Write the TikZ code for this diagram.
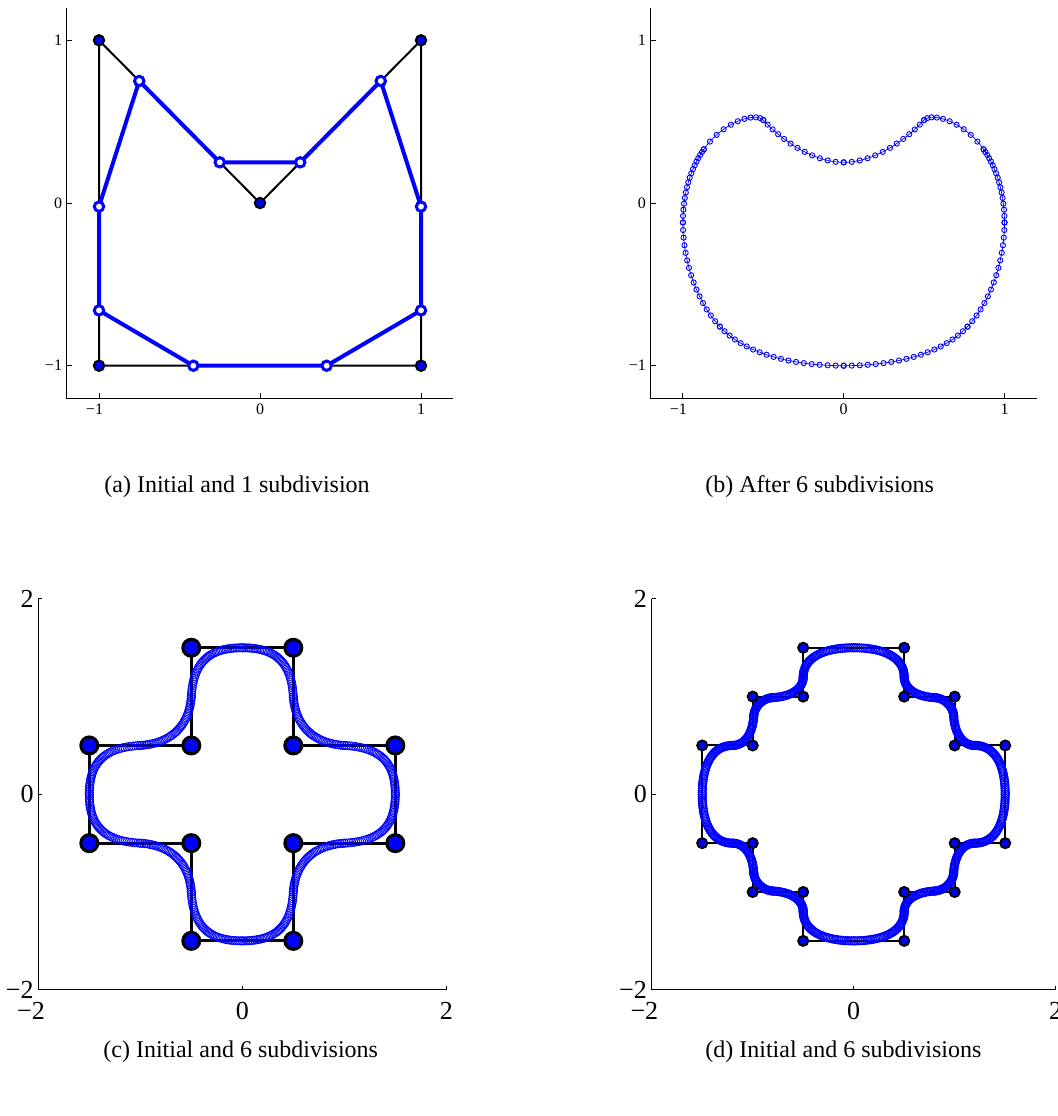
\documentclass[tikz,border=0pt]{standalone}
\usepackage{fontspec}
\setmainfont{Liberation Serif}
\usepackage{tikz}
\definecolor{plotblue}{RGB}{0,0,255}
\tikzset{
  axisline/.style={draw=black, line width=0.5pt},
  ticklbl/.style={font=\fontsize{8}{9}\selectfont, inner sep=0pt},
  bigticklbl/.style={font=\fontsize{13}{15}\selectfont, inner sep=0pt},
  captionlbl/.style={font=\fontsize{12}{14}\selectfont, anchor=west, inner sep=0pt},
  ctrlpoly/.style={draw=black, line width=1pt, line join=round},
  ctrlpt/.style={draw=black, fill=plotblue, line width=1pt},
  subpoly/.style={draw=plotblue, line width=2pt, line join=round},
  subpt/.style={draw=plotblue, fill=white, line width=1.5pt},
  fineline/.style={draw=plotblue, line width=0.35pt},
  smallring/.style={draw=plotblue, line width=0.45pt, radius=1.3pt},
  bandring/.style={draw=plotblue, line width=0.4pt, radius=2.1pt},
  lightring/.style={draw=plotblue, line width=0.3pt, radius=2.1pt}
}
% rings along one cubic segment: #1 style, #2..#9 = x0,y0,x1,y1,x2,y2,x3,y3
\newcommand{\ringn}{20}
\newcommand{\bezrings}[9]{%
  \foreach \k in {0,...,\ringn}{%
    \pgfmathsetmacro{\bt}{\k/\ringn}%
    \pgfmathsetmacro{\bu}{1-\bt}%
    \path[#1] ({\bu*\bu*\bu*(#2)+3*\bu*\bu*\bt*(#4)+3*\bu*\bt*\bt*(#6)+\bt*\bt*\bt*(#8)},
               {\bu*\bu*\bu*(#3)+3*\bu*\bu*\bt*(#5)+3*\bu*\bt*\bt*(#7)+\bt*\bt*\bt*(#9)}) circle;
  }%
}

\begin{document}
\begin{tikzpicture}[x=0.5pt, y=-0.5pt]
  \useasboundingbox (0,0) rectangle (1057,1116);
  \coordinate (Oa) at (260,203);
  \coordinate (Ob) at (843.7,203);
  \coordinate (Oc) at (242.3,794.3);
  \coordinate (Od) at (853.7,794.3);

  % (a) initial polygon and one step
  \begin{scope}[shift={(Oa)}, x=80.5pt, y=81.35pt]
    \draw[axisline] (-1.2,1.2) -- (-1.2,-1.2) -- (1.2,-1.2);
    \foreach \t in {-1,0,1}{
      \draw[axisline] (\t,-1.2) -- ++(0,0.03);
      \draw[axisline] (-1.2,\t) -- ++(0.03,0);
    }
    \foreach \t/\lbl in {-1/\llap{−}1, 0/0, 1/1}
      \node[ticklbl, yshift=-5.5pt] at (\t,-1.2) {\lbl};
    \foreach \t/\lbl in {-1/−1, 0/0, 1/1}
      \node[ticklbl, anchor=east, xshift=-2.2pt] at (-1.2,\t) {\lbl};

    \foreach \x/\y [count=\i] in {-1/1, 0/0, 1/1, 1/-1, -1/-1}
      \coordinate (a\i) at (\x,\y);
    \foreach \x/\y [count=\i] in {-0.75/0.75, -0.25/0.25, 0.25/0.25, 0.75/0.75,
        1/-0.022, 1/-0.66, 0.414/-1, -0.414/-1, -1/-0.66, -1/-0.022}
      \coordinate (s\i) at (\x,\y);

    \draw[ctrlpoly] (a1) \foreach \i in {2,...,5}{-- (a\i)} -- cycle;
    \draw[subpoly] (s1) \foreach \i in {2,...,10}{-- (s\i)} -- cycle;
    \foreach \i in {1,...,5} \draw[ctrlpt] (a\i) circle (2.6pt);
    \foreach \i in {1,...,10} \draw[subpt] (s\i) circle (2.35pt);
  \end{scope}

  % (b) six steps
  \begin{scope}[shift={(Ob)}, x=80.4pt, y=81.35pt]
    \draw[axisline] (-1.2,1.2) -- (-1.2,-1.2) -- (1.2,-1.2);
    \foreach \t in {-1,0,1}{
      \draw[axisline] (\t,-1.2) -- ++(0,0.03);
      \draw[axisline] (-1.2,\t) -- ++(0.03,0);
    }
    \foreach \t/\lbl in {-1/\llap{−}1, 0/0, 1/1}
      \node[ticklbl, yshift=-5.5pt] at (\t,-1.2) {\lbl};
    \foreach \t/\lbl in {-1/−1, 0/0, 1/1}
      \node[ticklbl, anchor=east, xshift=-2.2pt] at (-1.2,\t) {\lbl};

    \foreach \sx in {-1,1}{
      \draw[fineline] (0,0.25)
        .. controls ({\sx*0.2},0.25) and ({\sx*0.4},0.4) .. ({\sx*0.5},0.51)
        .. controls ({\sx*0.55},0.56) and ({\sx*0.75},0.5) .. ({\sx*0.87},0.33)
        .. controls ({\sx*0.93},0.245) and ({\sx*1},0.1) .. ({\sx*1},-0.12)
        .. controls ({\sx*1},-0.35) and ({\sx*0.92},-0.6) .. ({\sx*0.77},-0.76)
        .. controls ({\sx*0.605},-0.936) and ({\sx*0.3},-1) .. (0,-1);
      \renewcommand{\ringn}{12}
      \bezrings{smallring}{0}{0.25}{\sx*0.2}{0.25}{\sx*0.4}{0.4}{\sx*0.5}{0.51}
      \renewcommand{\ringn}{10}
      \bezrings{smallring}{\sx*0.5}{0.51}{\sx*0.55}{0.56}{\sx*0.75}{0.5}{\sx*0.87}{0.33}
      \renewcommand{\ringn}{16}
      \bezrings{smallring}{\sx*0.87}{0.33}{\sx*0.93}{0.245}{\sx*1}{0.1}{\sx*1}{-0.12}
      \renewcommand{\ringn}{15}
      \bezrings{smallring}{\sx*1}{-0.12}{\sx*1}{-0.35}{\sx*0.92}{-0.6}{\sx*0.77}{-0.76}
      \renewcommand{\ringn}{18}
      \bezrings{smallring}{\sx*0.77}{-0.76}{\sx*0.605}{-0.936}{\sx*0.3}{-1}{0}{-1}
    }
  \end{scope}

  % (c) cross, initial and six steps
  \begin{scope}[shift={(Oc)}, x=51pt, y=48.85pt]
    \draw[axisline] (-2,2) -- (-2,-2) -- (2,-2);
    \foreach \t in {-2,0,2}{
      \draw[axisline] (\t,-2) -- ++(0,0.04);
      \draw[axisline] (-2,\t) -- ++(0.04,0);
    }
    \foreach \t/\lbl in {-2/\llap{−}2, 0/0, 2/2}
      \node[bigticklbl, yshift=-10.5pt] at (\t,-2) {\lbl};
    \foreach \t/\lbl in {-2/−2, 0/0, 2/2}
      \node[bigticklbl, anchor=east, xshift=-2.2pt] at (-2,\t) {\lbl};

    \foreach \x/\y [count=\i] in {-0.5/1.5, 0.5/1.5, 0.5/0.5, 1.5/0.5,
        1.5/-0.5, 0.5/-0.5, 0.5/-1.5, -0.5/-1.5, -0.5/-0.5, -1.5/-0.5,
        -1.5/0.5, -0.5/0.5}
      \coordinate (c\i) at (\x,\y);
    \draw[ctrlpoly, line width=1.5pt] (c1) \foreach \i in {2,...,12}{-- (c\i)} -- cycle;

    \renewcommand{\ringn}{48}
    \foreach \sx/\sy in {1/1, -1/1, -1/-1, 1/-1}{
      \bezrings{lightring}{0}{\sy*1.5}{\sx*0.3}{\sy*1.5}{\sx*0.48}{\sy*1.38}{\sx*0.5}{\sy*1.0}
      \bezrings{lightring}{\sx*0.5}{\sy*1.0}{\sx*0.52}{\sy*0.7}{\sx*0.7}{\sy*0.52}{\sx*1.0}{\sy*0.5}
      \bezrings{lightring}{\sx*1.0}{\sy*0.5}{\sx*1.38}{\sy*0.48}{\sx*1.5}{\sy*0.3}{\sx*1.5}{0}
    }

    \foreach \i in {1,...,12} \draw[ctrlpt, line width=1.5pt] (c\i) circle (4.25pt);
  \end{scope}

  % (d) stepped shape, initial and six steps
  \begin{scope}[shift={(Od)}, x=50.5pt, y=48.85pt]
    \draw[axisline] (-2,2) -- (-2,-2) -- (2,-2);
    \foreach \t in {-2,0,2}{
      \draw[axisline] (\t,-2) -- ++(0,0.04);
      \draw[axisline] (-2,\t) -- ++(0.04,0);
    }
    \foreach \t/\lbl in {-2/\llap{−}2, 0/0, 2/2}
      \node[bigticklbl, yshift=-10.5pt] at (\t,-2) {\lbl};
    \foreach \t/\lbl in {-2/−2, 0/0, 2/2}
      \node[bigticklbl, anchor=east, xshift=-2.2pt] at (-2,\t) {\lbl};

    \foreach \x/\y [count=\i] in {-0.5/1.5, 0.5/1.5, 0.5/1, 1/1, 1/0.5,
        1.5/0.5, 1.5/-0.5, 1/-0.5, 1/-1, 0.5/-1, 0.5/-1.5, -0.5/-1.5,
        -0.5/-1, -1/-1, -1/-0.5, -1.5/-0.5, -1.5/0.5, -1/0.5, -1/1, -0.5/1}
      \coordinate (d\i) at (\x,\y);
    \draw[ctrlpoly] (d1) \foreach \i in {2,...,20}{-- (d\i)} -- cycle;

    \foreach \sx/\sy in {1/1, -1/1, -1/-1, 1/-1}{
      \renewcommand{\ringn}{45}
      \bezrings{bandring}{0}{\sy*1.5}{\sx*0.3}{\sy*1.5}{\sx*0.5}{\sy*1.4}{\sx*0.5}{\sy*1.2}
      \renewcommand{\ringn}{35}
      \bezrings{bandring}{\sx*0.5}{\sy*1.2}{\sx*0.5}{\sy*1.08}{\sx*0.62}{\sy*1.0}{\sx*0.8}{\sy*0.99}
      \renewcommand{\ringn}{28}
      \bezrings{bandring}{\sx*0.8}{\sy*0.99}{\sx*0.9}{\sy*0.985}{\sx*0.985}{\sy*0.9}{\sx*0.99}{\sy*0.8}
      \renewcommand{\ringn}{35}
      \bezrings{bandring}{\sx*0.99}{\sy*0.8}{\sx*1.0}{\sy*0.62}{\sx*1.08}{\sy*0.5}{\sx*1.2}{\sy*0.5}
      \renewcommand{\ringn}{45}
      \bezrings{bandring}{\sx*1.2}{\sy*0.5}{\sx*1.4}{\sy*0.5}{\sx*1.5}{\sy*0.3}{\sx*1.5}{0}
    }

    \foreach \i in {1,...,20} \draw[ctrlpt] (d\i) circle (2.5pt);
  \end{scope}

  % captions
  \node[captionlbl] (capa) at (104,487) {(a) Initial and 1 subdivision};
  \node[captionlbl] (capb) at (705,487) {(b) After 6 subdivisions};
  \node[captionlbl] (capc) at (103,1052) {(c) Initial and 6 subdivisions};
  \node[captionlbl] (capd) at (705,1052) {(d) Initial and 6 subdivisions};
\end{tikzpicture}
\end{document}
